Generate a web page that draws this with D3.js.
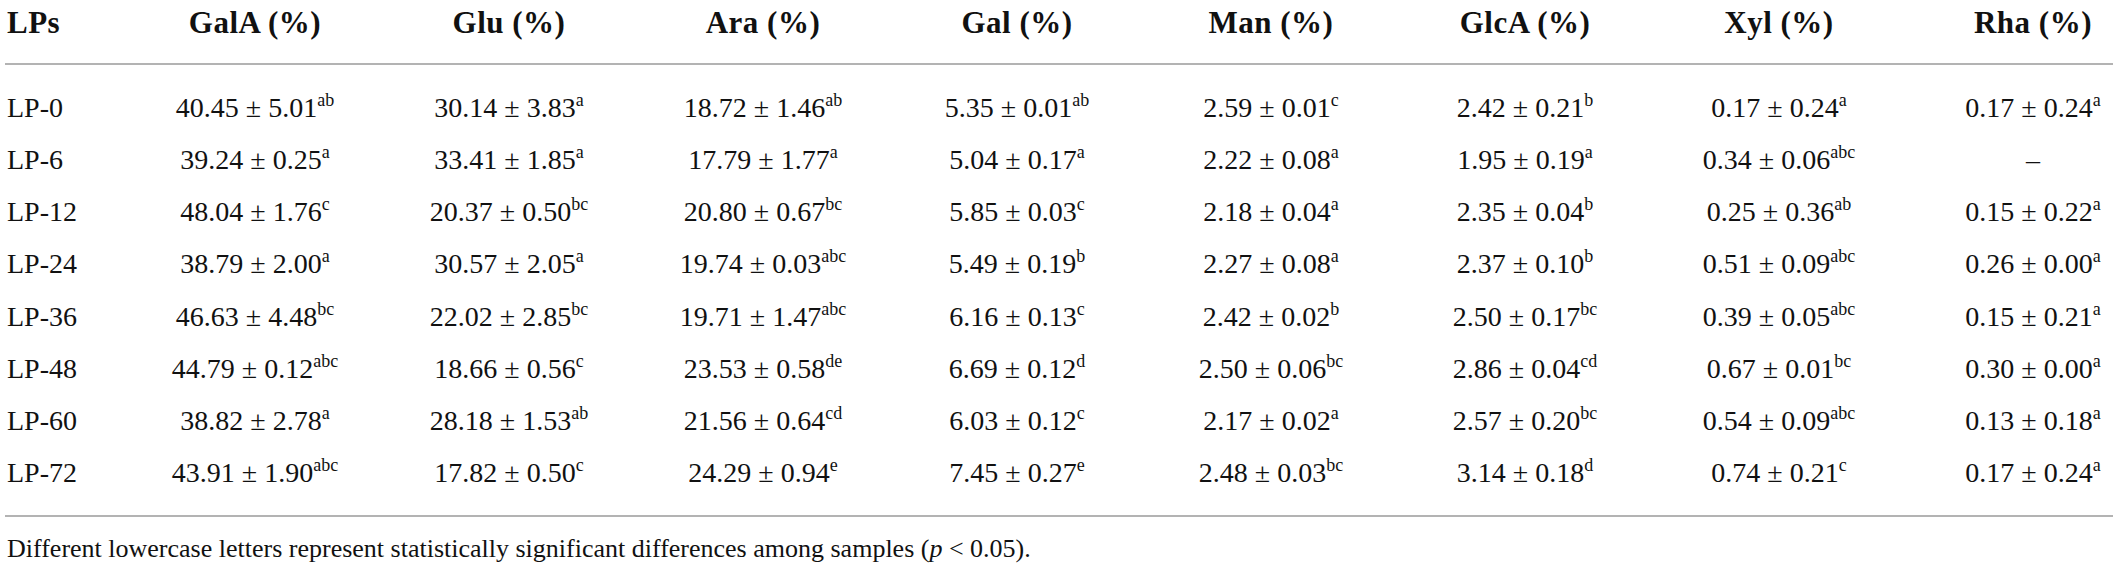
<!DOCTYPE html>
<html>
<head>
<meta charset="utf-8">
<script src="https://cdn.jsdelivr.net/npm/d3@7"></script>
<style>
  html, body { margin: 0; padding: 0; background: #fff; }
  svg { display: block; font-family: "Liberation Serif", "DejaVu Serif", serif; }
  .hdr { font-weight: bold; font-size: 31px; letter-spacing: 0.5px; fill: #111; }
  .cell { font-size: 28px; fill: #111; }
  .note { font-size: 26px; fill: #111; }
  .rule { stroke: #9a9a9a; stroke-width: 1.6; }
</style>
</head>
<body>
<svg id="tbl" width="2117" height="570"></svg>
<script>
// table content
const samples = ['LP-0', 'LP-6', 'LP-12', 'LP-24', 'LP-36', 'LP-48', 'LP-60', 'LP-72'];
const columns = ['GalA', 'Glu', 'Ara', 'Gal', 'Man', 'GlcA', 'Xyl', 'Rha'];

const galaMean = [40.45, 39.24, 48.04, 38.79, 46.63, 44.79, 38.82, 43.91];
const galaSd   = [5.01, 0.25, 1.76, 2.00, 4.48, 0.12, 2.78, 1.90];
const galaSig  = ['ab', 'a', 'c', 'a', 'bc', 'abc', 'a', 'abc'];

const gluMean = [30.14, 33.41, 20.37, 30.57, 22.02, 18.66, 28.18, 17.82];
const gluSd   = [3.83, 1.85, 0.50, 2.05, 2.85, 0.56, 1.53, 0.50];
const gluSig  = ['a', 'a', 'bc', 'a', 'bc', 'c', 'ab', 'c'];

const araMean = [18.72, 17.79, 20.80, 19.74, 19.71, 23.53, 21.56, 24.29];
const araSd   = [1.46, 1.77, 0.67, 0.03, 1.47, 0.58, 0.64, 0.94];
const araSig  = ['ab', 'a', 'bc', 'abc', 'abc', 'de', 'cd', 'e'];

const galMean = [5.35, 5.04, 5.85, 5.49, 6.16, 6.69, 6.03, 7.45];
const galSd   = [0.01, 0.17, 0.03, 0.19, 0.13, 0.12, 0.12, 0.27];
const galSig  = ['ab', 'a', 'c', 'b', 'c', 'd', 'c', 'e'];

const manMean = [2.59, 2.22, 2.18, 2.27, 2.42, 2.50, 2.17, 2.48];
const manSd   = [0.01, 0.08, 0.04, 0.08, 0.02, 0.06, 0.02, 0.03];
const manSig  = ['c', 'a', 'a', 'a', 'b', 'bc', 'a', 'bc'];

const glcaMean = [2.42, 1.95, 2.35, 2.37, 2.50, 2.86, 2.57, 3.14];
const glcaSd   = [0.21, 0.19, 0.04, 0.10, 0.17, 0.04, 0.20, 0.18];
const glcaSig  = ['b', 'a', 'b', 'b', 'bc', 'cd', 'bc', 'd'];

const xylMean = [0.17, 0.34, 0.25, 0.51, 0.39, 0.67, 0.54, 0.74];
const xylSd   = [0.24, 0.06, 0.36, 0.09, 0.05, 0.01, 0.09, 0.21];
const xylSig  = ['a', 'abc', 'ab', 'abc', 'abc', 'bc', 'abc', 'c'];

// LP-6 has no rhamnose value
const rhaMean = [0.17, null, 0.15, 0.26, 0.15, 0.30, 0.13, 0.17];
const rhaSd   = [0.24, null, 0.22, 0.00, 0.21, 0.00, 0.18, 0.24];
const rhaSig  = ['a', null, 'a', 'a', 'a', 'a', 'a', 'a'];

const means = [galaMean, gluMean, araMean, galMean, manMean, glcaMean, xylMean, rhaMean];
const sds   = [galaSd, gluSd, araSd, galSd, manSd, glcaSd, xylSd, rhaSd];
const sigs  = [galaSig, gluSig, araSig, galSig, manSig, glcaSig, xylSig, rhaSig];

const firstHeader = 'LPs';
const footnote = ['Different lowercase letters represent statistically significant differences among samples (',
                  'p', ' < 0.05).'];

const W = 2117;
const left = 7;
const fmt = d3.format('.2f');

const svg = d3.select('#tbl');

// column centres and row baselines
const x = d3.scalePoint().domain(columns).range([255, 2033]);
const y = d3.scalePoint().domain(samples).range([117, 482]);

// header row
svg.append('text').attr('class', 'hdr')
  .attr('x', left).attr('y', 33)
  .text(firstHeader);

svg.selectAll('.colhdr')
  .data(columns)
  .enter()
  .append('text')
  .attr('class', 'hdr colhdr')
  .attr('x', d => x(d))
  .attr('y', 33)
  .attr('text-anchor', 'middle')
  .text(d => d + ' (%)');

// rules
svg.append('line').attr('class', 'rule')
  .attr('x1', 5).attr('x2', W - 4).attr('y1', 64).attr('y2', 64);
svg.append('line').attr('class', 'rule')
  .attr('x1', 5).attr('x2', W - 4).attr('y1', 516).attr('y2', 516);

// sample labels
svg.selectAll('.rowlab')
  .data(samples)
  .enter()
  .append('text')
  .attr('class', 'cell rowlab')
  .attr('x', left)
  .attr('y', d => y(d))
  .text(d => d);

// body cells
const cells = [];
columns.forEach((c, ci) => {
  samples.forEach((s, si) => {
    cells.push({col: c, row: s, m: means[ci][si], sd: sds[ci][si], sig: sigs[ci][si]});
  });
});

const cellText = svg.selectAll('.val')
  .data(cells)
  .enter()
  .append('text')
  .attr('class', 'cell val')
  .attr('x', d => x(d.col))
  .attr('y', d => y(d.row))
  .attr('text-anchor', 'middle');

cellText.filter(d => d.m == null).text('\u2013');

const filled = cellText.filter(d => d.m != null);
filled.append('tspan').text(d => fmt(d.m) + ' \u00b1 ' + fmt(d.sd));
filled.append('tspan')
  .attr('dy', -11)
  .attr('font-size', 18)
  .text(d => d.sig);

// footnote
const note = svg.append('text').attr('class', 'note')
  .attr('x', left).attr('y', 557);
note.append('tspan').text(footnote[0]);
note.append('tspan').attr('font-style', 'italic').text(footnote[1]);
note.append('tspan').text(footnote[2]);
</script>
</body>
</html>
